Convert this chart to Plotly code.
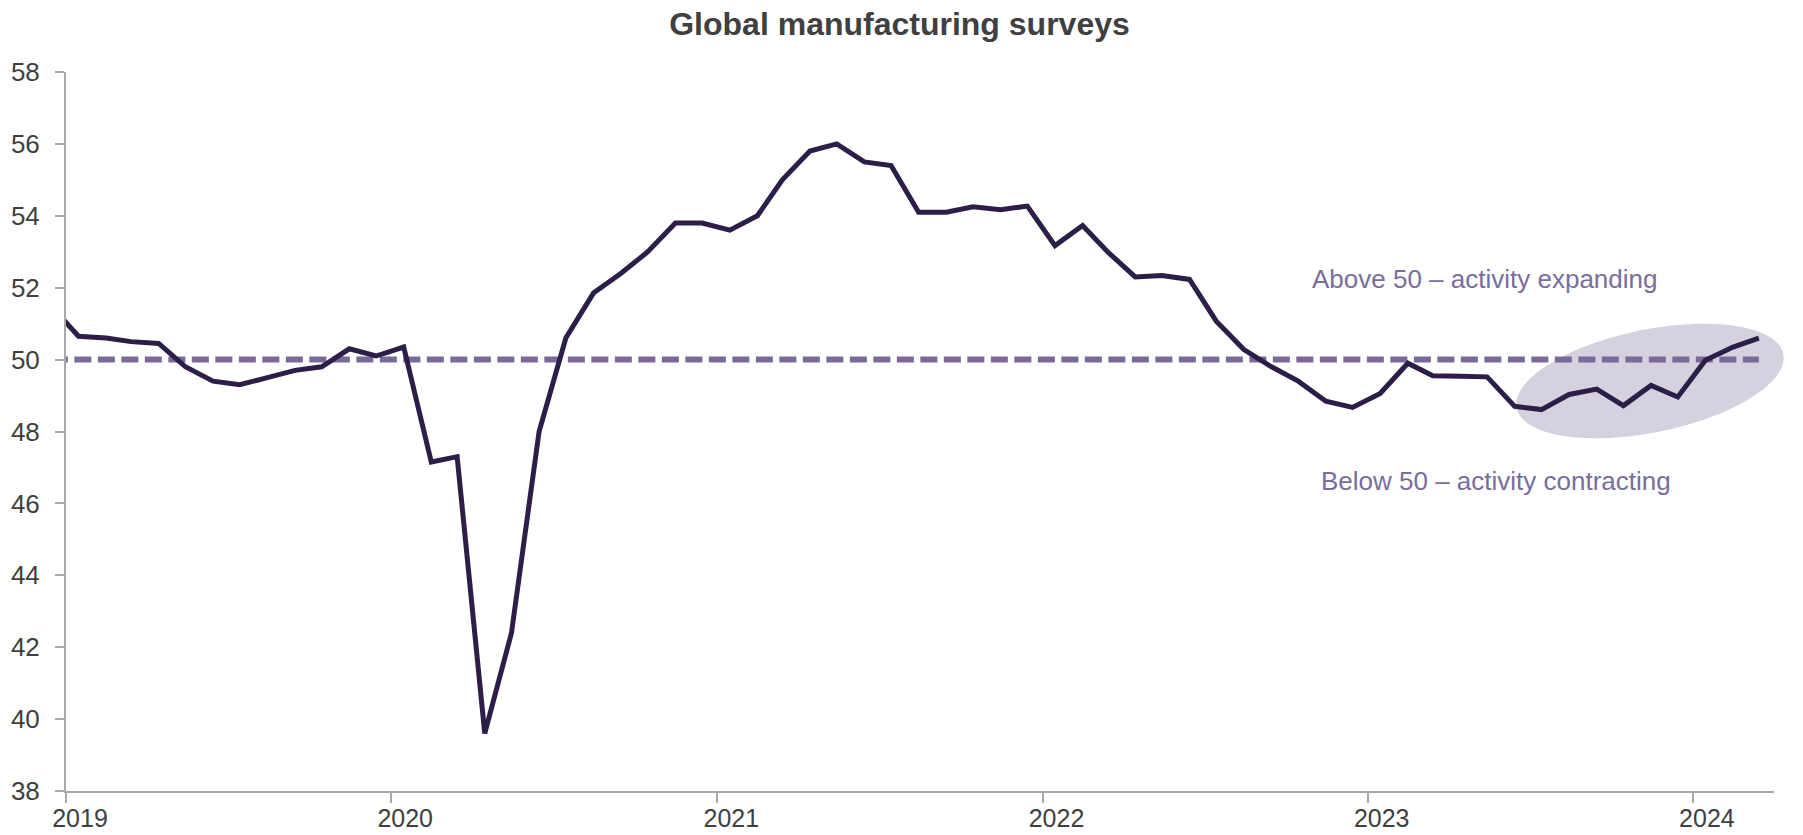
import math
import pandas as pd
import plotly.graph_objects as go

# Monthly survey readings, Dec 2018 - Mar 2024 (plotted mid-month)
months = pd.date_range("2018-12-01", "2024-03-01", freq="MS") + pd.Timedelta(days=14)
pmi = [
    51.5,
    # 2019
    50.65, 50.6, 50.5, 50.45, 49.8, 49.4, 49.3, 49.5, 49.7, 49.8, 50.3, 50.1,
    # 2020
    50.35, 47.15, 47.3, 39.6, 42.4, 48.0, 50.6, 51.85, 52.4, 53.0, 53.8, 53.8,
    # 2021
    53.6, 54.0, 55.0, 55.8, 56.0, 55.5, 55.4, 54.1, 54.1, 54.25, 54.17, 54.27,
    # 2022
    53.17, 53.73, 53.0, 52.3, 52.34, 52.23, 51.07, 50.28, 49.8, 49.4, 48.84, 48.67,
    # 2023
    49.06, 49.9, 49.55, 49.54, 49.52, 48.7, 48.61, 49.03, 49.18, 48.72, 49.28, 48.96,
    # 2024
    49.98, 50.35, 50.6,
]
threshold = [50.0] * len(pmi)

y_ticks = list(range(38, 59, 2))
x_range = ["2019-01-01", "2024-04-01"]
y_range = [38, 58]

title_text = "Global manufacturing surveys"
above_text = "Above 50 \u2013 activity expanding"
below_text = "Below 50 \u2013 activity contracting"

W, H = 1803, 835
M_L, M_R, M_T, M_B = 66, 29, 72, 44
plot_w = W - M_L - M_R
plot_h = H - M_T - M_B

LINE = "#2c1e48"
DASH = "#7a6a9a"
ELLIPSE = "#d6d1df"
TEXT = "#404040"
NOTE = "#7a6d9c"
AXIS = "#a9a9a9"
FONT = "Liberation Sans, Arial, sans-serif"


def ellipse_path(cx, cy, a, b, deg, n=120):
    """Rotated ellipse in pixel space, returned as a paper-coordinate SVG path."""
    t = math.radians(deg)
    pts = []
    for i in range(n):
        s = 2 * math.pi * i / n
        ex, ey = a * math.cos(s), b * math.sin(s)
        px = cx + ex * math.cos(t) + ey * math.sin(t)
        py = cy - ex * math.sin(t) + ey * math.cos(t)
        pts.append(((px - M_L) / plot_w, (H - M_B - py) / plot_h))
    return "M " + " L ".join(f"{x:.5f},{y:.5f}" for x, y in pts) + " Z"


fig = go.Figure()

fig.add_trace(go.Scatter(
    x=months, y=threshold, mode="lines",
    line=dict(color=DASH, width=6, dash="17px,6.5px"),
    hoverinfo="skip", showlegend=False,
))
fig.add_trace(go.Scatter(
    x=months, y=pmi, mode="lines",
    line=dict(color=LINE, width=5),
    showlegend=False,
))

fig.add_shape(
    type="path", xref="paper", yref="paper", layer="below",
    path=ellipse_path(1650, 381, 136, 51.5, 11.5),
    fillcolor=ELLIPSE, line=dict(width=0),
)

fig.add_annotation(
    text=above_text, xref="paper", yref="paper",
    x=(1484 - M_L) / plot_w, y=(H - M_B - 279) / plot_h,
    xanchor="center", yanchor="middle", showarrow=False,
    font=dict(family=FONT, size=26, color=NOTE),
)
fig.add_annotation(
    text=below_text, xref="paper", yref="paper",
    x=(1496 - M_L) / plot_w, y=(H - M_B - 481) / plot_h,
    xanchor="center", yanchor="middle", showarrow=False,
    font=dict(family=FONT, size=26, color=NOTE),
)

fig.update_layout(
    width=W, height=H,
    margin=dict(l=M_L, r=M_R, t=M_T, b=M_B, autoexpand=False),
    paper_bgcolor="white", plot_bgcolor="white",
    title=dict(
        text=f"<b>{title_text}</b>", x=899.5 / W, xref="container", xanchor="center",
        y=1 - 24 / H, yref="container", yanchor="middle",
        font=dict(family=FONT, size=32, color=TEXT),
    ),
    font=dict(family=FONT, size=26, color=TEXT),
)
fig.update_xaxes(
    type="date", range=x_range, tick0="2019-01-01", dtick="M12", tickformat="%Y",
    automargin=False,
    showgrid=False, zeroline=False, showline=True, linecolor=AXIS, linewidth=2,
    ticks="outside", ticklen=10, tickwidth=2, tickcolor=AXIS,
    ticklabelshift=14, ticklabelstandoff=-6,
    tickfont=dict(family=FONT, size=25, color=TEXT),
)
fig.update_yaxes(
    range=y_range, tickvals=y_ticks, automargin=False,
    showgrid=False, zeroline=False, showline=True, linecolor=AXIS, linewidth=2,
    ticks="outside", ticklen=9, tickwidth=2, tickcolor=AXIS,
    ticklabelstandoff=10, tickfont=dict(family=FONT, size=26, color=TEXT),
)

fig.write_html("out.html")
